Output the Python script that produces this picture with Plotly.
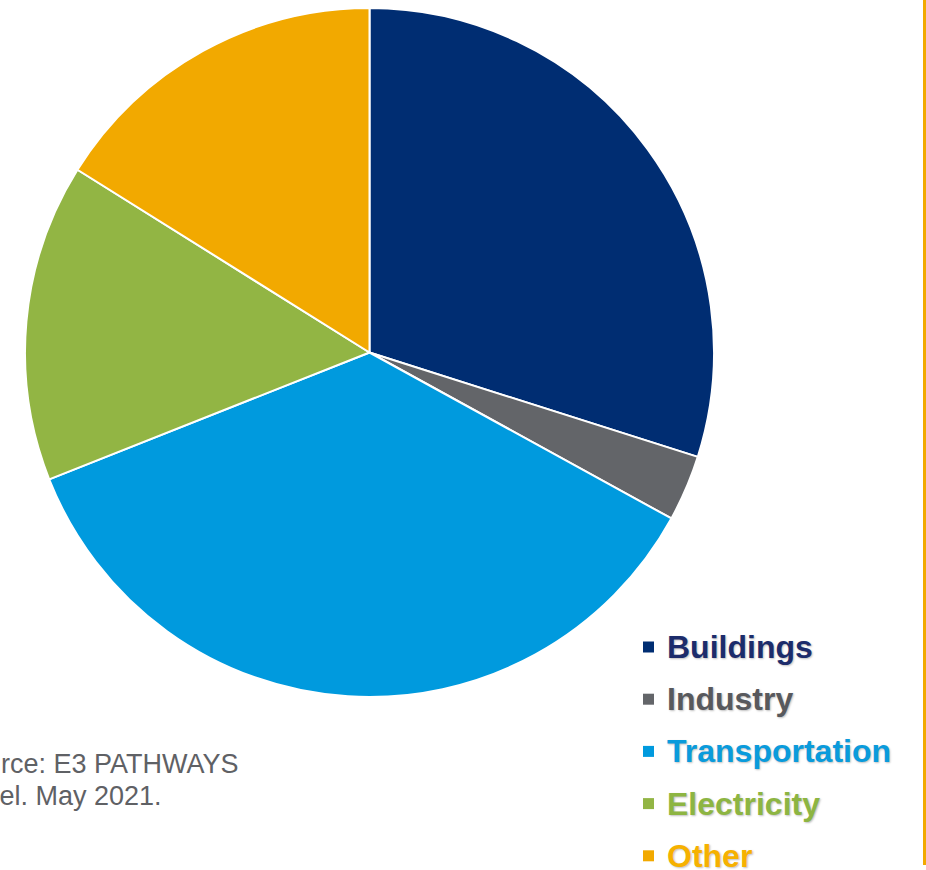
import plotly.graph_objects as go

# Emissions share by sector
sectors = ["Buildings", "Industry", "Transportation", "Electricity", "Other"]
shares = [29.9, 3.1, 36.0, 14.9, 16.1]
slice_colors = ["#002D72", "#636569", "#009ADE", "#92B544", "#F2A900"]
text_colors = ["#1C2C6B", "#58595D", "#0A9BDC", "#8DB542", "#F6B100"]

source_lines = ["Source: E3 PATHWAYS", "Model. May 2021."]

W, H = 926, 870
cx, cy, r = 369.5, 352.5, 344.5

fig = go.Figure()
fig.add_trace(go.Pie(
    labels=sectors,
    values=shares,
    sort=False,
    direction="clockwise",
    rotation=0,
    textinfo="none",
    marker=dict(colors=slice_colors, line=dict(color="white", width=2)),
    domain=dict(x=[(cx - r) / W, (cx + r) / W], y=[(H - cy - r) / H, (H - cy + r) / H]),
    showlegend=False,
))

# Legend drawn as colored squares and bold colored labels
leg_x, leg_top, leg_gap, sq = 643, 647, 52.2, 11
shapes = []
annotations = []
for i, (name, sc, tc) in enumerate(zip(sectors, slice_colors, text_colors)):
    yc = leg_top + i * leg_gap
    shapes.append(dict(type="rect", xref="paper", yref="paper",
                       x0=leg_x / W, x1=(leg_x + sq) / W,
                       y0=1 - (yc + sq / 2) / H, y1=1 - (yc - sq / 2) / H,
                       fillcolor=sc, line=dict(width=0)))
    annotations.append(dict(text="<b>%s</b>" % name, xref="paper", yref="paper",
                            x=665 / W, y=1 - yc / H, xanchor="left", yanchor="middle",
                            showarrow=False,
                            font=dict(family="Liberation Sans, Arial", size=32, color=tc,
                                      shadow="1px 1px 2px rgba(0,0,0,0.25)")))

# Source note, running off the left edge
for line, x_px, y_px in zip(source_lines, [-49, -55], [764, 796]):
    annotations.append(dict(text=line, xref="paper", yref="paper",
                            x=x_px / W, y=1 - y_px / H, xanchor="left", yanchor="middle",
                            align="left", showarrow=False,
                            font=dict(family="Liberation Sans, Arial", size=27, color="#5F6165")))

# Orange rule on the right edge
shapes.append(dict(type="line", xref="paper", yref="paper",
                   x0=924.5 / W, x1=924.5 / W, y0=1 - 865 / H, y1=1,
                   line=dict(color="#F2A900", width=3)))

fig.update_layout(
    width=W, height=H,
    margin=dict(l=0, r=0, t=0, b=0),
    paper_bgcolor="white", plot_bgcolor="white",
    shapes=shapes, annotations=annotations,
)

fig.write_html("out.html")
